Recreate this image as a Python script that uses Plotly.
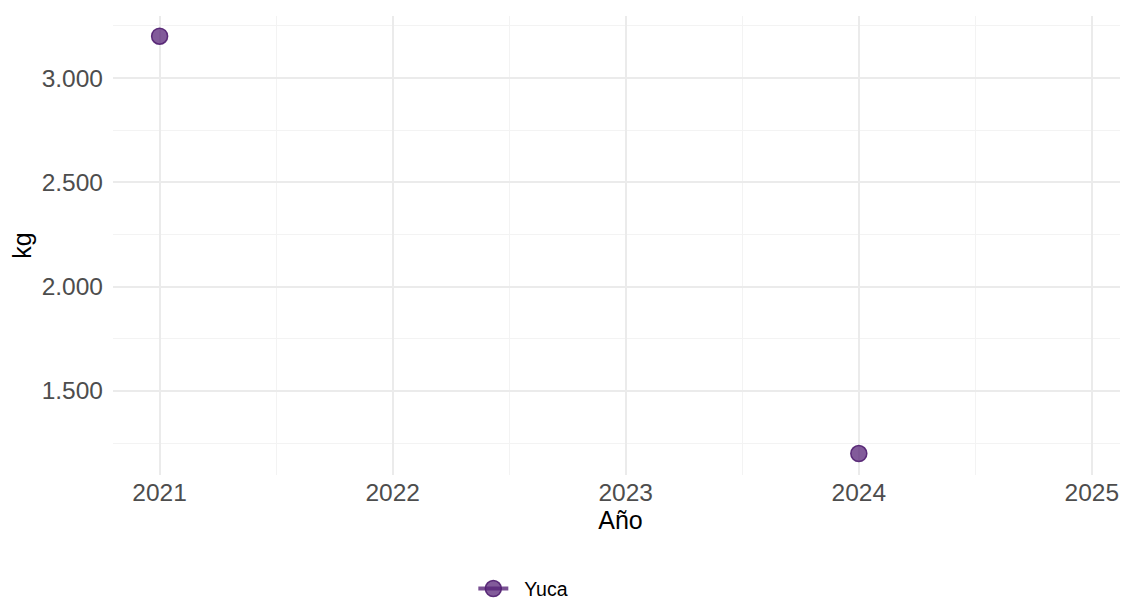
import plotly.graph_objects as go

years = [2021, 2022, 2023, 2024]
yuca_kg = [3200, None, None, 1200]
series_name = "Yuca"
x_ticks = [2021, 2022, 2023, 2024, 2025]
y_ticks = [1500, 2000, 2500, 3000]

fig = go.Figure()
fig.add_trace(go.Scatter(
    x=years, y=yuca_kg, name="\u00a0\u00a0" + series_name, mode="lines+markers",
    connectgaps=False,
    line=dict(color="rgba(88,36,120,0.8)", width=4),
    marker=dict(color="rgba(88,36,120,0.75)", size=16,
                line=dict(color="rgba(80,30,112,0.9)", width=1.5)),
))

# The page body adds an 8px offset, so figure coords = screen coords - 8.
fig.update_layout(
    width=1128, height=620,
    margin=dict(l=105, r=8, t=8, b=153),
    paper_bgcolor="white", plot_bgcolor="white",
    separators=",.",
    font=dict(family="Liberation Sans, Arial, sans-serif", color="#000000"),
    showlegend=True,
    legend=dict(orientation="h", x=0.355, xanchor="left", y=-0.248, yanchor="middle",
                font=dict(size=19.5, color="#000000"), tracegroupgap=0),
)
fig.update_xaxes(
    automargin=False,
    range=[2020.8, 2025.155], tickvals=x_ticks, ticktext=[str(v) for v in x_ticks],
    showgrid=True, gridcolor="#ebebeb", gridwidth=1.6, zeroline=False,
    showline=False, ticks="", ticklen=0,
    tickfont=dict(size=24.5, color="#4d4d4d"),
    title=dict(text="Año", font=dict(size=25, color="#000000"), standoff=2),
    minor=dict(tickvals=[2020.5, 2021.5, 2022.5, 2023.5, 2024.5], showgrid=True,
               gridcolor="#f3f3f3", gridwidth=1),
)
fig.update_yaxes(
    automargin=False,
    range=[1097, 3297], tickvals=y_ticks, tickformat=",d",
    showgrid=True, gridcolor="#ebebeb", gridwidth=1.6, zeroline=False,
    showline=False, ticks="", ticklen=0, ticklabelstandoff=9,
    tickfont=dict(size=24.5, color="#4d4d4d"),
    title=dict(text="kg", font=dict(size=25, color="#000000"), standoff=16),
    minor=dict(tickvals=[1250, 1750, 2250, 2750, 3250], showgrid=True,
               gridcolor="#f3f3f3", gridwidth=1),
)

fig.write_html("out.html")
